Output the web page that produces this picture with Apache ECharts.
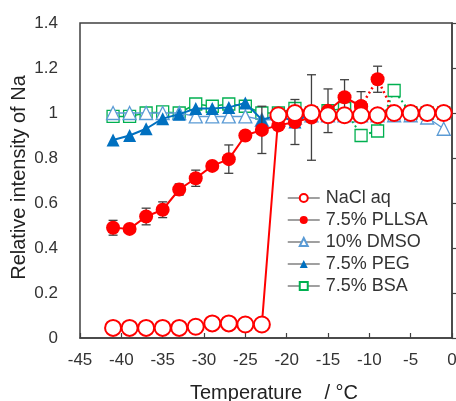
<!DOCTYPE html>
<html>
<head>
<meta charset="utf-8">
<script src="https://cdn.jsdelivr.net/npm/echarts@6/dist/echarts.min.js"></script>
<style>
  html, body { margin: 0; padding: 0; background: #fff; }
  #chart { width: 456px; height: 401px; }
</style>
</head>
<body>
<div id="chart"></div>
<script>
const temps = [-41, -39, -37, -35, -33, -31, -29, -27, -25, -23, -21, -19, -17, -15, -13, -11, -9, -7, -5, -3, -1];
const nacl = [0.045, 0.045, 0.045, 0.045, 0.045, 0.05, 0.065, 0.065, 0.06, 0.06, 0.99, 1.0, 1.0, 0.99, 0.99, 0.99, 0.99, 1.0, 1.0, 1.0, 1.0];
const pllsa = [0.49, 0.485, 0.54, 0.57, 0.66, 0.71, 0.765, 0.795, 0.9, 0.925, 0.945, 0.96, 0.98, 1.01, 1.07, 1.03, 1.15, 1.0, 1.0, 1.0, 1.0];
const pllsaErr = [0.033, 0, 0.037, 0.035, 0.025, 0.036, 0, 0.063, 0, 0.105, 0, 0.1, 0.19, 0.097, 0.078, 0.065, 0.058, 0, 0, 0, 0];
const dmso = [1.0, 1.0, 1.0, 1.0, 1.0, 0.985, 0.985, 0.985, 0.985, 0.97, 0.97, 0.98, 0.99, 0.99, 0.99, 0.99, 0.99, 0.99, 0.99, 0.98, 0.93];
const peg = [0.88, 0.9, 0.93, 0.975, 0.995, 1.02, 1.02, 1.025, 1.045, 0.97, 0.99, 0.96, 1.0, 1.0, 1.0, 1.0, 1.0, 1.0, 1.0, 1.0, 1.0];
const bsa = [0.985, 0.985, 1.0, 1.005, 1.0, 1.04, 1.03, 1.04, 1.03, 1.0, 1.0, 1.02, 1.0, 1.01, 1.02, 0.9, 0.92, 1.1, 1.0, 1.0, 1.0];
const names = ["NaCl aq", "7.5% PLLSA", "10% DMSO", "7.5% PEG", "7.5% BSA"];

// which points sit on dotted stretches
const pllsaDotFrom = 15, pllsaDotTo = 17;
const bsaDotFrom = 14, bsaDotTo = 18;

const pairs = (ys, a, b) => temps.map((t, i) => [t, ys[i]]).slice(a, b + 1);

const red = "#ff0000", blue = "#0070c0", lblue = "#5b9bd5", green = "#00b050";
const ink = "#404040";
const font = "Liberation Sans, Arial, sans-serif";

const chart = echarts.init(document.getElementById("chart"));

chart.setOption({
  animation: false,
  textStyle: { fontFamily: font },
  grid: {
    left: 80, right: 4, top: 23, bottom: 63,
    containLabel: false, outerBoundsMode: "none",
    show: true, borderColor: ink, borderWidth: 1.5
  },
  xAxis: {
    type: "value",
    min: -45, max: 0, interval: 5,
    name: "Temperature    / °C",
    nameLocation: "middle",
    nameGap: 45,
    nameTextStyle: { fontSize: 20, color: "#222", fontFamily: font, padding: [0, 0, 0, 16] },
    axisLine: { lineStyle: { color: ink, width: 1.5 } },
    axisTick: { inside: true, length: 5, lineStyle: { color: ink, width: 1.2 } },
    axisLabel: { fontSize: 17, color: "#333", margin: 14, fontFamily: font },
    splitLine: { show: false }
  },
  yAxis: {
    type: "value",
    min: 0, max: 1.4, interval: 0.2,
    name: "Relative intensity of Na",
    nameLocation: "middle",
    nameGap: 51,
    nameMoveOverlap: false,
    nameTextStyle: { fontSize: 20, color: "#222", fontFamily: font, padding: [0, 0, 0, 6] },
    axisLine: { show: true, lineStyle: { color: ink, width: 1.5 } },
    axisTick: { inside: true, length: 5, lineStyle: { color: ink, width: 1.2 } },
    axisLabel: { fontSize: 17, color: "#333", margin: 22, fontFamily: font },
    splitLine: { show: false }
  },
  legend: {
    data: names,
    orient: "vertical",
    left: 282, top: 184,
    itemWidth: 32, itemHeight: 10, itemGap: 4,
    textStyle: { fontSize: 18, color: "#333", fontFamily: font, padding: [0, 0, 0, 1] },
    lineStyle: { color: "#808080", width: 1.5 }
  },
  series: [
    {
      name: "7.5% BSA", type: "line", z: 2,
      data: pairs(bsa, 0, bsaDotFrom),
      symbol: "rect", symbolSize: 12,
      itemStyle: { color: "#fff", borderColor: green, borderWidth: 1.3 },
      lineStyle: { color: green, width: 1.5 }
    },
    {
      name: "bsa-dot", type: "line", z: 2,
      data: pairs(bsa, bsaDotFrom, bsaDotTo),
      symbol: "rect", symbolSize: 12,
      itemStyle: { color: "#fff", borderColor: green, borderWidth: 1.3 },
      lineStyle: { color: green, width: 2, type: [2, 3] }
    },
    {
      name: "bsa-tail", type: "line", z: 2,
      data: pairs(bsa, bsaDotTo, temps.length - 1),
      symbol: "rect", symbolSize: 12,
      itemStyle: { color: "#fff", borderColor: green, borderWidth: 1.3 },
      lineStyle: { color: green, width: 1.5 }
    },
    {
      name: "10% DMSO", type: "line", z: 3,
      data: pairs(dmso, 0, temps.length - 1),
      symbol: "triangle", symbolSize: 13,
      itemStyle: { color: "#fff", borderColor: lblue, borderWidth: 1.3 },
      lineStyle: { color: lblue, width: 1.5 }
    },
    {
      name: "7.5% PEG", type: "line", z: 4,
      data: pairs(peg, 0, temps.length - 1),
      symbol: "triangle", symbolSize: 13,
      itemStyle: { color: blue },
      lineStyle: { color: blue, width: 2 }
    },
    {
      name: "pllsa-err", type: "custom", z: 5,
      data: temps.map((t, i) => [t, pllsa[i], pllsaErr[i]]).filter(d => d[2] > 0),
      renderItem: (params, api) => {
        const x = api.value(0), y = api.value(1), e = api.value(2);
        const top = api.coord([x, y + e]);
        const bot = api.coord([x, y - e]);
        const w = 4.5;
        const style = { stroke: ink, lineWidth: 1.3 };
        return {
          type: "group",
          children: [
            { type: "line", shape: { x1: top[0], y1: top[1], x2: bot[0], y2: bot[1] }, style },
            { type: "line", shape: { x1: top[0] - w, y1: top[1], x2: top[0] + w, y2: top[1] }, style },
            { type: "line", shape: { x1: bot[0] - w, y1: bot[1], x2: bot[0] + w, y2: bot[1] }, style }
          ]
        };
      }
    },
    {
      name: "7.5% PLLSA", type: "line", z: 6,
      data: pairs(pllsa, 0, pllsaDotFrom),
      symbol: "circle", symbolSize: 14,
      itemStyle: { color: red },
      lineStyle: { color: red, width: 2 }
    },
    {
      name: "pllsa-dot", type: "line", z: 6,
      data: pairs(pllsa, pllsaDotFrom, pllsaDotTo),
      symbol: "circle", symbolSize: 14,
      itemStyle: { color: red },
      lineStyle: { color: red, width: 2.5, type: [2, 3] }
    },
    {
      name: "pllsa-tail", type: "line", z: 6,
      data: pairs(pllsa, pllsaDotTo, temps.length - 1),
      symbol: "circle", symbolSize: 14,
      itemStyle: { color: red },
      lineStyle: { color: red, width: 2 }
    },
    {
      name: "NaCl aq", type: "line", z: 7,
      data: pairs(nacl, 0, temps.length - 1),
      symbol: "circle", symbolSize: 16,
      itemStyle: { color: "#fff", borderColor: red, borderWidth: 2 },
      lineStyle: { color: red, width: 2 }
    }
  ]
});
</script>
</body>
</html>
